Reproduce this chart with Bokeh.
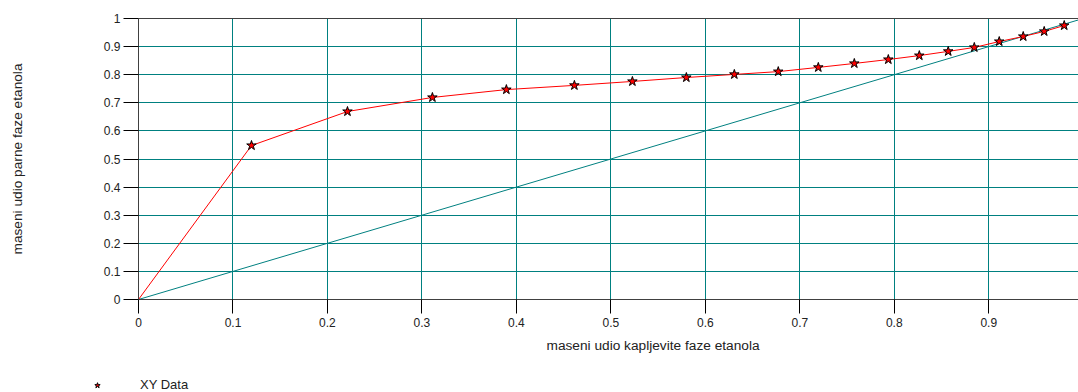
from bokeh.plotting import figure
from bokeh.layouts import column
from bokeh.models import Range1d, FixedTicker, LinearAxis, Legend, LegendItem, Title
from bokeh.embed import file_html
from bokeh.resources import INLINE

# data
x_liquid = [0.0, 0.1196, 0.2212, 0.3111, 0.3894, 0.4614, 0.5228, 0.5799, 0.6307, 0.6772,
            0.7196, 0.7577, 0.7937, 0.8265, 0.8571, 0.8847, 0.9111, 0.9365, 0.9587, 0.9799]
y_vapour = [0.0, 0.548, 0.669, 0.719, 0.747, 0.762, 0.776, 0.790, 0.801, 0.811,
            0.826, 0.840, 0.854, 0.868, 0.883, 0.897, 0.918, 0.936, 0.954, 0.975]
diag = [0.0, 1.0]

x_ticks = [0, 0.1, 0.2, 0.3, 0.4, 0.5, 0.6, 0.7, 0.8, 0.9]
x_tick_labels = ["0", "0.1", "0.2", "0.3", "0.4", "0.5", "0.6", "0.7", "0.8", "0.9"]
y_ticks = [0, 0.1, 0.2, 0.3, 0.4, 0.5, 0.6, 0.7, 0.8, 0.9, 1.0]
y_tick_labels = ["0", "0.1", "0.2", "0.3", "0.4", "0.5", "0.6", "0.7", "0.8", "0.9", "1"]

x_title = "maseni udio kapljevite faze etanola"
y_title = "maseni udio parne faze etanola"
legend_label = "XY Data"

TEAL = "#008080"
AXIS = "#404040"
TXT = "#222222"
FONT = "Liberation Sans"

p = figure(width=1078, height=362, output_backend="svg", toolbar_location=None,
           x_range=Range1d(0, 0.995), y_range=Range1d(0, 1),
           min_border_left=138, min_border_right=0, min_border_top=18, min_border_bottom=63,
           background_fill_color="white", border_fill_color="white")
p.outline_line_color = None

xa = p.xaxis[0]
xa.ticker = FixedTicker(ticks=x_ticks)
xa.major_label_overrides = {t: l for t, l in zip(x_ticks, x_tick_labels)}
xa.minor_tick_line_color = None
xa.major_tick_in = 0
xa.major_tick_out = 14
xa.major_tick_line_color = "black"
xa.axis_line_color = AXIS
xa.major_label_standoff = 4
xa.major_label_text_font = FONT
xa.major_label_text_font_size = "12px"
xa.major_label_text_color = TXT

ya = p.yaxis[0]
ya.ticker = FixedTicker(ticks=y_ticks)
ya.major_label_overrides = {t: l for t, l in zip(y_ticks, y_tick_labels)}
ya.minor_tick_line_color = None
ya.major_tick_in = 0
ya.major_tick_out = 15
ya.major_tick_line_color = "black"
ya.axis_line_color = AXIS
ya.major_label_standoff = 3
ya.major_label_text_font = FONT
ya.major_label_text_font_size = "12px"
ya.major_label_text_color = TXT
ya.axis_label = y_title
ya.axis_label_text_font = FONT
ya.axis_label_text_font_size = "13.7px"
ya.axis_label_text_font_style = "normal"
ya.axis_label_text_color = TXT
ya.axis_label_standoff = 76

top = LinearAxis(ticker=FixedTicker(ticks=[]), major_tick_out=0, major_tick_in=0,
                 minor_tick_line_color=None, major_label_text_font_size="0px",
                 axis_line_color=AXIS)
p.add_layout(top, "above")

xt = Title(text=x_title, align="left", offset=408, standoff=13,
           text_font=FONT, text_font_size="13.7px", text_font_style="normal", text_color=TXT)
p.add_layout(xt, "below")

p.xgrid.ticker = FixedTicker(ticks=x_ticks)
p.ygrid.ticker = FixedTicker(ticks=y_ticks)
p.xgrid.grid_line_color = TEAL
p.ygrid.grid_line_color = TEAL
p.xgrid.grid_line_width = 1
p.ygrid.grid_line_width = 1

p.line(diag, diag, line_color=TEAL, line_width=1)
p.line(x_liquid, y_vapour, line_color="#ff0000", line_width=1)
p.scatter(x_liquid[1:], y_vapour[1:], marker="star", size=10,
          fill_color="#ff0000", line_color="black", line_width=1)

# legend strip below the chart (its own frame, not aligned to the chart's frame)
lg = figure(width=1078, height=30, output_backend="svg", toolbar_location=None,
            x_range=Range1d(10, 20), y_range=Range1d(10, 20),
            x_axis_type=None, y_axis_type=None,
            min_border_left=0, min_border_right=0, min_border_top=0, min_border_bottom=0,
            background_fill_color="white", border_fill_color="white")
lg.frame_align = False
lg.outline_line_color = None
lg.grid.visible = False
# swatch renderer: same series, lies outside this strip's ranges so only its legend glyph shows
swatch = lg.scatter(x_liquid[1:], y_vapour[1:], marker="star", size=10,
                    fill_color="#ff0000", line_color="black", line_width=1)
legend = Legend(items=[LegendItem(label=legend_label, renderers=[swatch])],
                location=(87, 0), padding=0, margin=0, spacing=0,
                glyph_width=20, glyph_height=14, label_height=14, label_standoff=33,
                border_line_color=None, background_fill_alpha=0,
                label_text_font=FONT, label_text_font_size="13px", label_text_color=TXT)
lg.add_layout(legend)

page = column(p, lg, spacing=0)
open("out.html", "w").write(file_html(page, INLINE))
